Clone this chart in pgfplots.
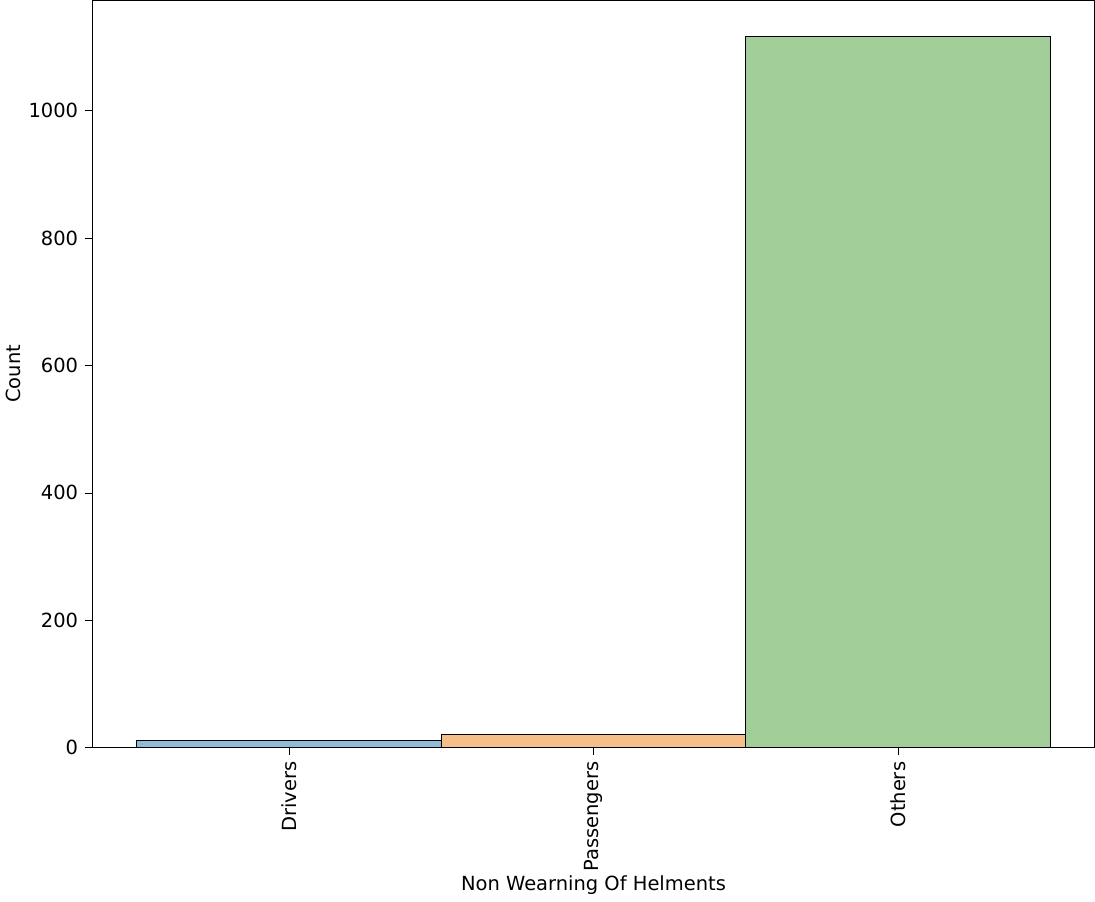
\documentclass[border=0pt]{standalone}
\usepackage{pgfplots}
\pgfplotsset{compat=1.18}
\usepackage{fontspec}
\setmainfont{DejaVu Sans}
\definecolor{cb}{RGB}{143,187,217}
\definecolor{co}{RGB}{245,191,138}
\definecolor{cg}{RGB}{161,205,153}
\begin{document}
\fontsize{13}{16}\selectfont
\begin{tikzpicture}
\begin{axis}[
  scale only axis, width=669pt, height=498.75pt,
  xmin=-0.646, xmax=2.646, ymin=0, ymax=1173,
  xtick={0,1,2}, xticklabels={Drivers,Passengers,Others},
  xticklabel style={rotate=90, anchor=east},
  ytick={0,200,400,600,800,1000},
  scaled y ticks=false,
  yticklabel style={/pgf/number format/1000 sep={}},
  /pgf/number format/assume math mode=true,
  ticklabel style={font=\fontsize{13}{16}\selectfont},
  label style={font=\fontsize{13}{16}\selectfont},
  xlabel={Non Wearning Of Helments}, ylabel={Count},
  xtick pos=bottom, ytick pos=left,
  tick align=outside, major tick length=5pt, tick style={black},
  axis line style={black},
  ybar, bar width=1, bar shift=0pt,
  every axis plot/.append style={draw=black, line width=0.8pt},
  xlabel style={yshift=6pt},
  ylabel style={yshift=-4pt},
]
\addplot[fill=cb] coordinates {(0,11)};
\addplot[fill=co] coordinates {(1,20)};
\addplot[fill=cg] coordinates {(2,1116)};
\path (rel axis cs:-0.169,-0.308) (rel axis cs:1.058,1.0075);
\end{axis}
\end{tikzpicture}
\end{document}
